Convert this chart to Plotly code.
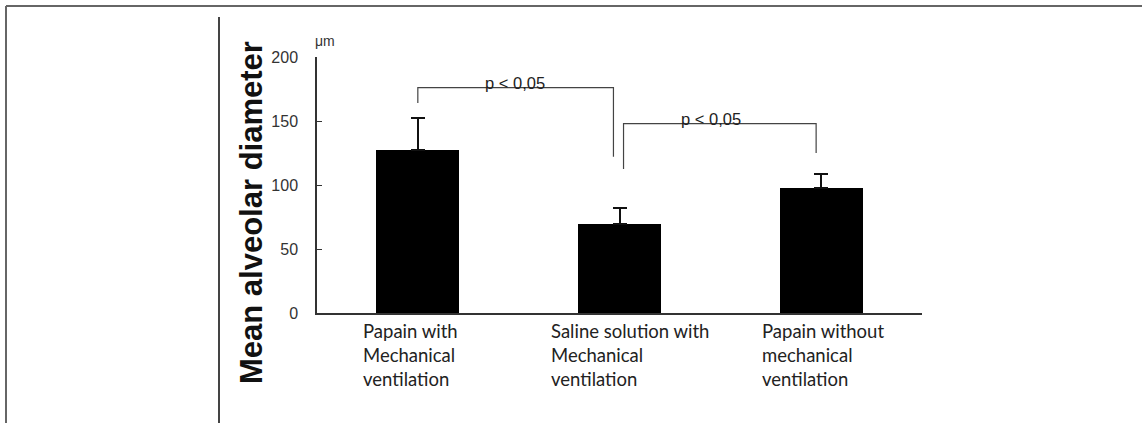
import plotly.graph_objects as go

# ---- data ----
categories = ["Papain with<br>Mechanical<br>ventilation",
              "Saline solution with<br>Mechanical<br>ventilation",
              "Papain without<br>mechanical<br>ventilation"]
means = [127, 69.5, 97.5]
errors = [25, 12.5, 11]
y_ticks = [0, 50, 100, 150, 200]
# significance brackets
bracket_left = [0, 1]
bracket_right = [1, 2]
bracket_left_foot = [164, 112.5]
bracket_right_foot = [122, 125]
bracket_top = [176, 148]
bracket_text = ["p < 0,05", "p < 0,05"]

W, H = 1142, 423
L, R, T, B = 317, 922, 57, 313  # plot area pixel box


def px_x(px):
    return (px - L) / (R - L)


def px_y(py):
    return (B - py) / (B - T)


xs = list(range(len(categories)))

fig = go.Figure()
fig.add_trace(go.Bar(
    x=xs, y=means, width=0.41,
    marker=dict(color="#000000", line=dict(width=0)),
    error_y=dict(type="data", array=errors, arrayminus=[0] * len(errors),
                 symmetric=False, color="#111111", thickness=2, width=7),
    showlegend=False, hoverinfo="skip",
))

shapes = []
annotations = []
line_style = dict(color="#444444", width=1.2)
for i in range(len(bracket_left)):
    xl = bracket_left[i] + (0.0 if i == 0 else 0.02)
    xr = bracket_right[i] - (0.03 if i == 0 else 0.025)
    pts = [(xl, bracket_left_foot[i]), (xl, bracket_top[i]),
           (xr, bracket_top[i]), (xr, bracket_right_foot[i])]
    path = "M " + " L ".join(f"{a},{b}" for a, b in pts)
    shapes.append(dict(type="path", path=path, xref="x", yref="y", line=line_style))
    annotations.append(dict(
        x=(bracket_left[i] + bracket_right[i]) / 2 - (0.02 if i == 0 else 0.045),
        y=bracket_top[i], xref="x", yref="y", text=bracket_text[i], showarrow=False,
        xanchor="center", yanchor="bottom", yshift=-6,
        font=dict(family="Liberation Sans, Arial", size=16.5, color="#222222")))

# category labels (left aligned, offset from bar centers)
label_offsets = [-0.282, -0.35, -0.305]
for i, c in enumerate(categories):
    annotations.append(dict(
        x=xs[i] + label_offsets[i], y=0, xref="x", yref="y", text=c,
        showarrow=False, xanchor="left", yanchor="top", align="left", yshift=-5,
        font=dict(family="Lato, Open Sans, sans-serif", size=18.5, color="#222222")))

# unit label
annotations.append(dict(x=px_x(313), y=px_y(41), xref="paper", yref="paper",
                        text="μm", showarrow=False, xanchor="left", yanchor="middle",
                        font=dict(family="Liberation Sans, Arial", size=14, color="#333333")))
# y title
annotations.append(dict(x=px_x(251), y=px_y(213), xref="paper", yref="paper",
                        text="<b>Mean alveolar diameter</b>", textangle=-90, showarrow=False,
                        xanchor="center", yanchor="middle",
                        font=dict(family="Liberation Sans, Arial", size=31, color="#111111")))

# frame lines
frame = dict(color="#666666", width=2)
shapes.append(dict(type="line", xref="paper", yref="paper",
                   x0=px_x(6), x1=px_x(W), y0=px_y(6), y1=px_y(6), line=frame))
shapes.append(dict(type="line", xref="paper", yref="paper",
                   x0=px_x(6), x1=px_x(6), y0=px_y(6), y1=px_y(H), line=frame))
shapes.append(dict(type="line", xref="paper", yref="paper",
                   x0=px_x(219), x1=px_x(219), y0=px_y(17), y1=px_y(H),
                   line=dict(color="#444444", width=2)))

fig.update_layout(
    width=W, height=H,
    margin=dict(l=L, r=W - R, t=T, b=H - B, pad=0),
    paper_bgcolor="white", plot_bgcolor="white",
    shapes=shapes, annotations=annotations,
    bargap=0,
    xaxis=dict(range=[-0.5, 2.5], showticklabels=False, ticks="", showgrid=False,
               zeroline=False, showline=True, linecolor="#333333", linewidth=1.5),
    yaxis=dict(range=[0, 200], tickvals=y_ticks, ticks="inside", ticklen=5,
               tickcolor="#333333", showgrid=False, zeroline=False, showline=True,
               linecolor="#333333", linewidth=1.5, ticklabelstandoff=14,
               tickfont=dict(family="Liberation Sans, Arial", size=16, color="#333333")),
)

fig.write_html("out.html", config={"displayModeBar": False},
               post_script="document.body.style.margin='0';document.body.style.overflow='hidden';")
